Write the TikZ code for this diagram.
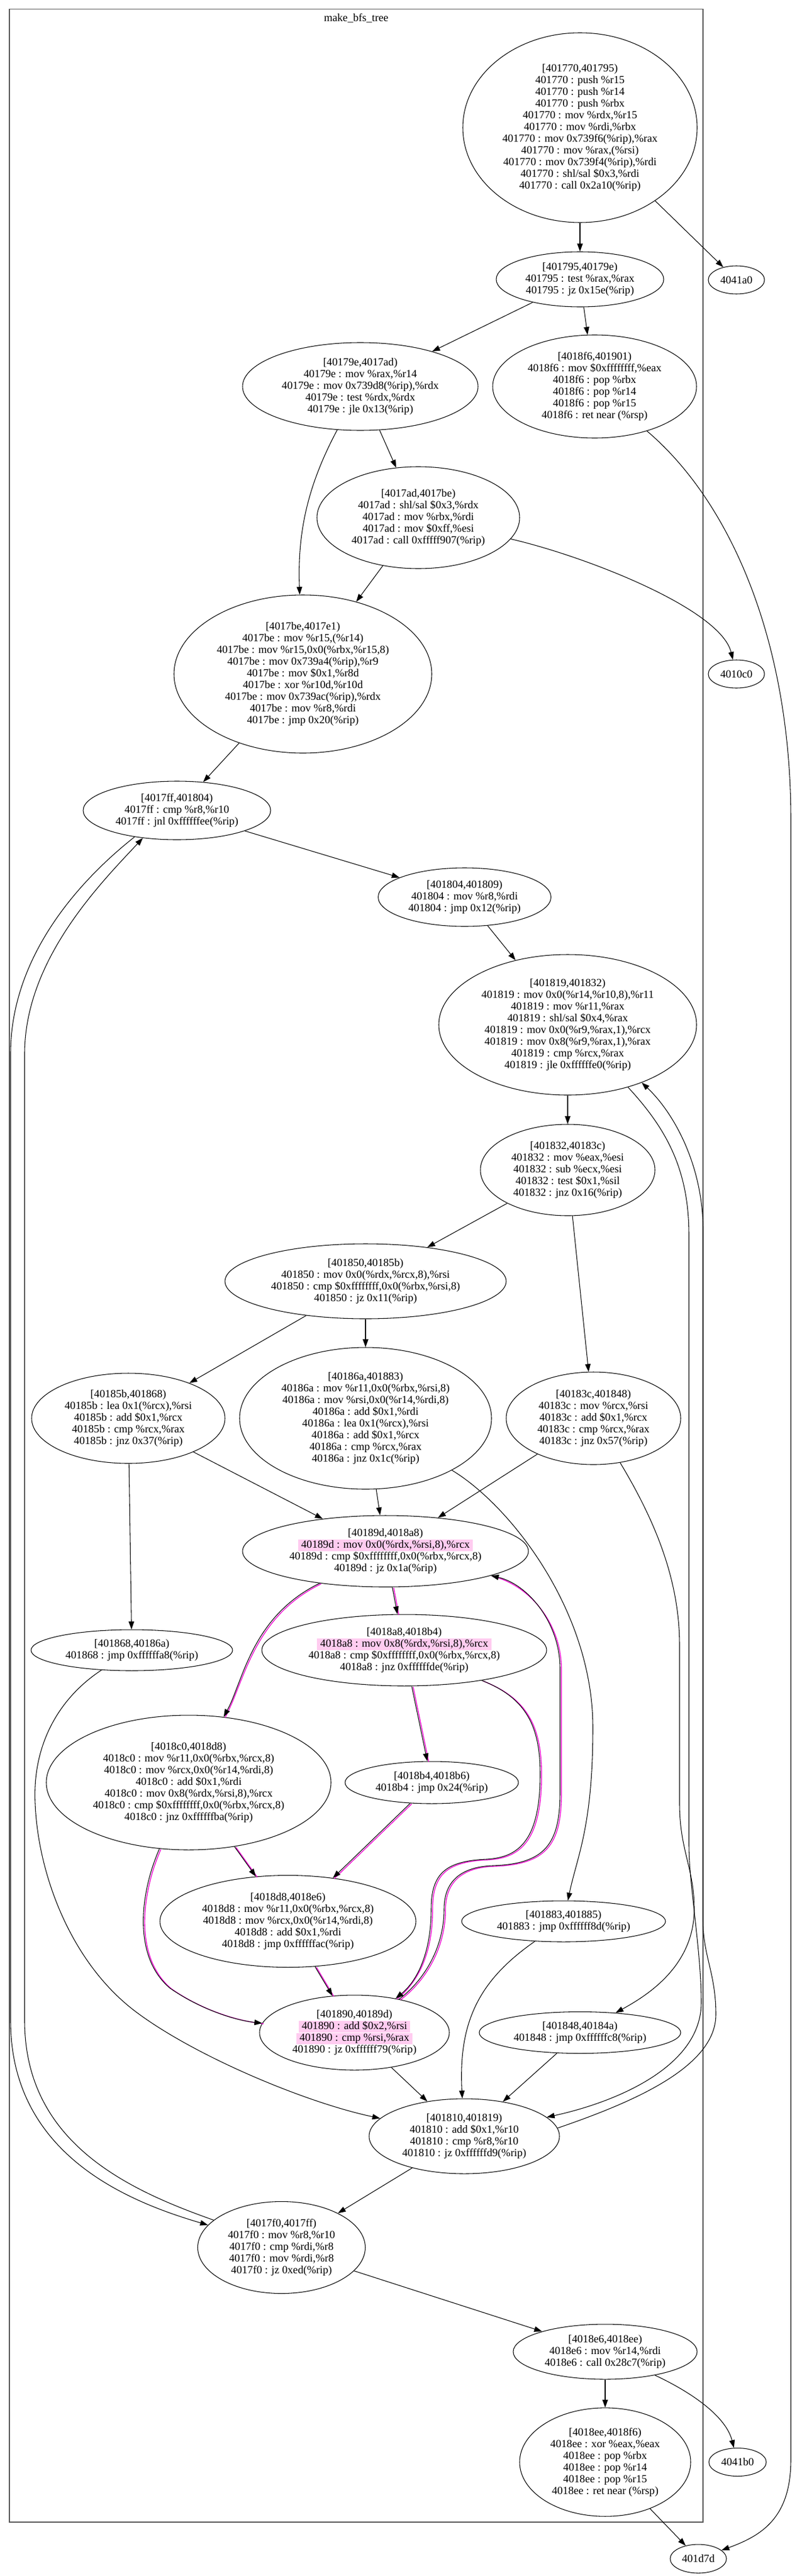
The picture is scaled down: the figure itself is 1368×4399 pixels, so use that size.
\documentclass[tikz,border=0pt]{standalone}
\usepackage{fontspec}
\setmainfont{Liberation Serif}
\usetikzlibrary{shapes.geometric,arrows.meta}
\definecolor{hlpink}{RGB}{255,204,240}
\definecolor{magline}{RGB}{240,0,210}
\definecolor{clusline}{RGB}{85,85,85}
\newcommand\nodefont{\fontsize{14pt}{15pt}\selectfont}
\newcommand\hlline[1]{{\setlength{\fboxsep}{1pt}\smash{\colorbox{hlpink}{\rule[-3pt]{0pt}{10pt}\hspace{3pt}#1\hspace{3pt}}}}}
\newcommand\pedge[1]{\draw[pk] #1; \draw[e] #1;}
\begin{document}
\begin{tikzpicture}[x=0.75pt,y=-0.75pt,
  blk/.style 2 args={draw, ellipse, line width=0.8pt, minimum width=#1, minimum height=#2, inner sep=0pt},
  txt/.style={align=center, inner sep=0pt, font=\nodefont},
  e/.style={draw=black, line width=0.8pt, -{Triangle[length=10pt,width=7pt]}},
  pk/.style={draw=magline, line width=1pt, transform canvas={xshift=1.8pt,yshift=-0.8pt}},
  clus/.style={draw=clusline, line width=1.3pt}]
\fill[white] (0,0) rectangle (1368,4399);
\useasboundingbox (0,0) rectangle (1368,4399);
\draw[clus] (16,15.6) rectangle (1200,4307);
\node[font=\nodefont, inner sep=0pt] (title) at (608,31) {make\_bfs\_tree};

% nodes
\node[blk={300pt}{243pt}] (n1) at (990,218) {};
\node[txt] (t1) at (n1) {{}[401770,401795)\\401770 : push \%r15\\401770 : push \%r14\\401770 : push \%rbx\\401770 : mov \%rdx,\%r15\\401770 : mov \%rdi,\%rbx\\401770 : mov 0x739f6(\%rip),\%rax\\401770 : mov \%rax,(\%rsi)\\401770 : mov 0x739f4(\%rip),\%rdi\\401770 : shl/sal \$0x3,\%rdi\\401770 : call 0x2a10(\%rip)};

\node[blk={214.5pt}{70.5pt}] (n2) at (990,477) {};
\node[txt] (t2) at (n2) {{}[401795,40179e)\\401795 : test \%rax,\%rax\\401795 : jz 0x15e(\%rip)};

\node[blk={72pt}{36pt}] (a41a0) at (1257,478) {};
\node[txt] (ta41a0) at (a41a0) {4041a0};

\node[blk={301.5pt}{112.5pt}] (n79e) at (615,660) {};
\node[txt] (t79e) at (n79e) {{}[40179e,4017ad)\\40179e : mov \%rax,\%r14\\40179e : mov 0x739d8(\%rip),\%rdx\\40179e : test \%rdx,\%rdx\\40179e : jle 0x13(\%rip)};

\node[blk={261pt}{132pt}] (n8f6) at (1015,660) {};
\node[txt] (t8f6) at (n8f6) {{}[4018f6,401901)\\4018f6 : mov \$0xffffffff,\%eax\\4018f6 : pop \%rbx\\4018f6 : pop \%r14\\4018f6 : pop \%r15\\4018f6 : ret near (\%rsp)};

\node[blk={259.5pt}{130.5pt}] (n7ad) at (714,884) {};
\node[txt] (t7ad) at (n7ad) {{}[4017ad,4017be)\\4017ad : shl/sal \$0x3,\%rdx\\4017ad : mov \%rbx,\%rdi\\4017ad : mov \$0xff,\%esi\\4017ad : call 0xfffff907(\%rip)};

\node[blk={72pt}{36pt}] (a10c0) at (1257,1151) {};
\node[txt] (ta10c0) at (a10c0) {4010c0};

\node[blk={330pt}{202.5pt}] (n7be) at (517,1151) {};
\node[txt] (t7be) at (n7be) {{}[4017be,4017e1)\\4017be : mov \%r15,(\%r14)\\4017be : mov \%r15,0x0(\%rbx,\%r15,8)\\4017be : mov 0x739a4(\%rip),\%r9\\4017be : mov \$0x1,\%r8d\\4017be : xor \%r10d,\%r10d\\4017be : mov 0x739ac(\%rip),\%rdx\\4017be : mov \%r8,\%rdi\\4017be : jmp 0x20(\%rip)};

\node[blk={240pt}{75pt}] (n7ff) at (302,1384) {};
\node[txt] (t7ff) at (n7ff) {{}[4017ff,401804)\\4017ff : cmp \%r8,\%r10\\4017ff : jnl 0xffffffee(\%rip)};

\node[blk={221.25pt}{75pt}] (n804) at (793,1532) {};
\node[txt] (t804) at (n804) {{}[401804,401809)\\401804 : mov \%r8,\%rdi\\401804 : jmp 0x12(\%rip)};

\node[blk={330pt}{180pt}] (n819) at (969,1750) {};
\node[txt] (t819) at (n819) {{}[401819,401832)\\401819 : mov 0x0(\%r14,\%r10,8),\%r11\\401819 : mov \%r11,\%rax\\401819 : shl/sal \$0x4,\%rax\\401819 : mov 0x0(\%r9,\%rax,1),\%rcx\\401819 : mov 0x8(\%r9,\%rax,1),\%rax\\401819 : cmp \%rcx,\%rax\\401819 : jle 0xffffffe0(\%rip)};

\node[blk={223.5pt}{117pt}] (n832) at (969,1998) {};
\node[txt] (t832) at (n832) {{}[401832,40183c)\\401832 : mov \%eax,\%esi\\401832 : sub \%ecx,\%esi\\401832 : test \$0x1,\%sil\\401832 : jnz 0x16(\%rip)};

\node[blk={360pt}{96pt}] (n850) at (624,2188) {};
\node[txt] (t850) at (n850) {{}[401850,40185b)\\401850 : mov 0x0(\%rdx,\%rcx,8),\%rsi\\401850 : cmp \$0xffffffff,0x0(\%rbx,\%rsi,8)\\401850 : jz 0x11(\%rip)};

\node[blk={247.5pt}{115.5pt}] (n85b) at (219,2422) {};
\node[txt] (t85b) at (n85b) {{}[40185b,401868)\\40185b : lea 0x1(\%rcx),\%rsi\\40185b : add \$0x1,\%rcx\\40185b : cmp \%rcx,\%rax\\40185b : jnz 0x37(\%rip)};

\node[blk={322.5pt}{181.5pt}] (n86a) at (624,2422) {};
\node[txt] (t86a) at (n86a) {{}[40186a,401883)\\40186a : mov \%r11,0x0(\%rbx,\%rsi,8)\\40186a : mov \%rsi,0x0(\%r14,\%rdi,8)\\40186a : add \$0x1,\%rdi\\40186a : lea 0x1(\%rcx),\%rsi\\40186a : add \$0x1,\%rcx\\40186a : cmp \%rcx,\%rax\\40186a : jnz 0x1c(\%rip)};

\node[blk={223.5pt}{118.5pt}] (n83c) at (1013,2422) {};
\node[txt] (t83c) at (n83c) {{}[40183c,401848)\\40183c : mov \%rcx,\%rsi\\40183c : add \$0x1,\%rcx\\40183c : cmp \%rcx,\%rax\\40183c : jnz 0x57(\%rip)};

\node[blk={366pt}{91.5pt}] (n89d) at (658,2649) {};
\node[txt] (t89d) at (n89d) {{}[40189d,4018a8)\\\hlline{40189d : mov 0x0(\%rdx,\%rsi,8),\%rcx}\\40189d : cmp \$0xffffffff,0x0(\%rbx,\%rcx,8)\\40189d : jz 0x1a(\%rip)};

\node[blk={364.5pt}{91.5pt}] (n8a8) at (690,2818) {};
\node[txt] (t8a8) at (n8a8) {{}[4018a8,4018b4)\\\hlline{4018a8 : mov 0x8(\%rdx,\%rsi,8),\%rcx}\\4018a8 : cmp \$0xffffffff,0x0(\%rbx,\%rcx,8)\\4018a8 : jnz 0xffffffde(\%rip)};

\node[blk={258pt}{52.5pt}] (n868) at (225,2818) {};
\node[txt] (t868) at (n868) {{}[401868,40186a)\\401868 : jmp 0xffffffa8(\%rip)};

\node[blk={364.5pt}{172.5pt}] (n8c0) at (322,3044) {};
\node[txt] (t8c0) at (n8c0) {{}[4018c0,4018d8)\\4018c0 : mov \%r11,0x0(\%rbx,\%rcx,8)\\4018c0 : mov \%rcx,0x0(\%r14,\%rdi,8)\\4018c0 : add \$0x1,\%rdi\\4018c0 : mov 0x8(\%rdx,\%rsi,8),\%rcx\\4018c0 : cmp \$0xffffffff,0x0(\%rbx,\%rcx,8)\\4018c0 : jnz 0xffffffba(\%rip)};

\node[blk={222pt}{54pt}] (n8b4) at (737,3044) {};
\node[txt] (t8b4) at (n8b4) {{}[4018b4,4018b6)\\4018b4 : jmp 0x24(\%rip)};

\node[blk={261pt}{52.5pt}] (n883) at (962,3281) {};
\node[txt] (t883) at (n883) {{}[401883,401885)\\401883 : jmp 0xffffff8d(\%rip)};

\node[blk={327.75pt}{117.75pt}] (n8d8) at (491.5,3281) {};
\node[txt] (t8d8) at (n8d8) {{}[4018d8,4018e6)\\4018d8 : mov \%r11,0x0(\%rbx,\%rcx,8)\\4018d8 : mov \%rcx,0x0(\%r14,\%rdi,8)\\4018d8 : add \$0x1,\%rdi\\4018d8 : jmp 0xffffffac(\%rip)};

\node[blk={243pt}{96pt}] (n890) at (605,3471) {};
\node[txt] (t890) at (n890) {{}[401890,40189d)\\\hlline{401890 : add \$0x2,\%rsi}\\\hlline{401890 : cmp \%rsi,\%rax}\\401890 : jz 0xffffff79(\%rip)};

\node[blk={258pt}{53.25pt}] (n848) at (990,3471) {};
\node[txt] (t848) at (n848) {{}[401848,40184a)\\401848 : jmp 0xffffffc8(\%rip)};

\node[blk={243.75pt}{96pt}] (n810) at (792.5,3648) {};
\node[txt] (t810) at (n810) {{}[401810,401819)\\401810 : add \$0x1,\%r10\\401810 : cmp \%r8,\%r10\\401810 : jz 0xffffffd9(\%rip)};

\node[blk={214.5pt}{117.75pt}] (n7f0) at (480.5,3838) {};
\node[txt] (t7f0) at (n7f0) {{}[4017f0,4017ff)\\4017f0 : mov \%r8,\%r10\\4017f0 : cmp \%rdi,\%r8\\4017f0 : mov \%rdi,\%r8\\4017f0 : jz 0xed(\%rip)};

\node[blk={235.5pt}{70.5pt}] (n8e6) at (1033,4016) {};
\node[txt] (t8e6) at (n8e6) {{}[4018e6,4018ee)\\4018e6 : mov \%r14,\%rdi\\4018e6 : call 0x28c7(\%rip)};

\node[blk={219pt}{139pt}] (n8ee) at (1033,4204.5) {};
\node[txt] (t8ee) at (n8ee) {{}[4018ee,4018f6)\\4018ee : xor \%eax,\%eax\\4018ee : pop \%rbx\\4018ee : pop \%r14\\4018ee : pop \%r15\\4018ee : ret near (\%rsp)};

\node[blk={73.5pt}{36pt}] (a41b0) at (1259,4204.5) {};
\node[txt] (ta41b0) at (a41b0) {4041b0};

\node[blk={72pt}{36.75pt}] (a1d7d) at (1192,4369.5) {};
\node[txt] (ta1d7d) at (a1d7d) {401d7d};

% edges
\draw[e] (n1) -- (n2);
\draw[e] (n1) -- (a41a0);
\draw[e] (n2) -- (n79e);
\draw[e] (n2) -- (n8f6);
\draw[e] (n79e) -- (n7ad);
\draw[e] (n79e) .. controls (530,820) and (507,900) .. (n7be);
\draw[e] (n7ad) -- (n7be);
\draw[e] (n7ad) .. controls (1000,950) and (1230,1040) .. (a10c0);
\draw[e] (n8f6) .. controls (1250,860) and (1350,1100) .. (1350,1400) -- (1350,4200) .. controls (1350,4300) and (1300,4330) .. (a1d7d);
\draw[e] (n7be) -- (n7ff);
\draw[e] (n7ff) -- (n804);
\draw[e] (n804) -- (n819);
\draw[e] (n819) -- (n832);
\draw[e] (n832) -- (n850);
\draw[e] (n832) -- (n83c);
\draw[e] (n850) -- (n85b);
\draw[e] (n850) -- (n86a);
\draw[e] (n85b) -- (n868);
\draw[e] (n85b) -- (n89d);
\draw[e] (n86a) -- (n89d);
\draw[e] (n86a) .. controls (870,2570) and (1012,2750) .. (1012,2950) .. controls (1012,3120) and (985,3170) .. (n883);
\draw[e] (n83c) -- (n89d);
\draw[e] (n83c) .. controls (1120,2600) and (1160,2700) .. (1160,2810) -- (1160,3080) .. controls (1160,3160) and (1185,3190) .. (1185,3260) .. controls (1185,3360) and (1100,3410) .. (n848);

\pedge{(n89d) -- (n8a8)}
\pedge{(n89d) .. controls (430,2760) and (415,2870) .. (n8c0)}
\pedge{(n8a8) -- (n8b4)}
\pedge{(n8a8) .. controls (900,2900) and (922,2950) .. (922,3030) .. controls (922,3150) and (880,3172) .. (830,3175) .. controls (760,3178) and (736,3200) .. (736,3260) .. controls (736,3330) and (715,3380) .. (n890)}
\pedge{(n890) .. controls (720,3385) and (758,3330) .. (758,3260) .. controls (758,3210) and (790,3188) .. (840,3186) .. controls (930,3183) and (956,3150) .. (956,3060) -- (956,2850) .. controls (956,2770) and (900,2705) .. (n89d)}
\pedge{(n8b4) -- (n8d8)}
\pedge{(n8c0) -- (n8d8)}
\pedge{(n8c0) .. controls (240,3230) and (225,3340) .. (290,3395) .. controls (340,3430) and (400,3450) .. (n890)}
\pedge{(n8d8) -- (n890)}

\draw[e] (n868) .. controls (100,2900) and (55,2980) .. (60,3080) .. controls (65,3200) and (120,3350) .. (230,3434) .. controls (330,3510) and (520,3590) .. (n810);
\draw[e] (n890) -- (n810);
\draw[e] (n883) .. controls (820,3380) and (782,3450) .. (n810);
\draw[e] (n848) -- (n810);
\draw[e] (n819.-46) .. controls (1140,1930) and (1176,2000) .. (1176,2110) -- (1176,3150) .. controls (1176,3220) and (1197,3330) .. (1197,3420) .. controls (1197,3530) and (1050,3590) .. (n810.13);
\draw[e] (n810.5) .. controls (1080,3590) and (1222,3530) .. (1222,3440) .. controls (1222,3370) and (1200,3340) .. (1200,3280) -- (1200,2100) .. controls (1200,1990) and (1150,1900) .. (n819.-38);
\draw[e] (n7ff.-148) .. controls (140,1500) and (18,1630) .. (18,1800) -- (18,3450) .. controls (18,3680) and (220,3760) .. (n7f0.163);
\draw[e] (n7f0.158) .. controls (220,3740) and (42,3660) .. (42,3450) -- (42,1800) .. controls (42,1640) and (170,1510) .. (n7ff.-141);
\draw[e] (n810) -- (n7f0);
\draw[e] (n7f0) -- (n8e6);
\draw[e] (n8e6) -- (n8ee);
\draw[e] (n8e6) .. controls (1190,4090) and (1240,4130) .. (a41b0);
\draw[e] (n8ee) -- (a1d7d);
\end{tikzpicture}
\end{document}
